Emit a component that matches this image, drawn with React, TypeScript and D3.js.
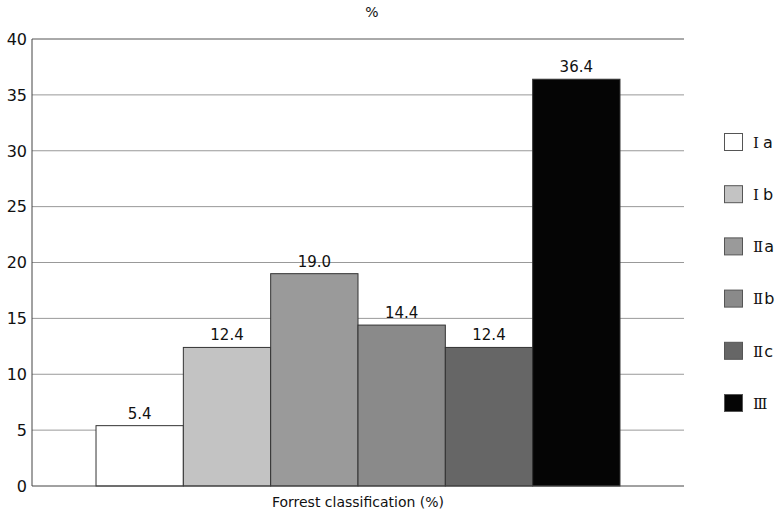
import React from "react";
import * as d3 from "d3";

const categories = ["Ⅰa", "Ⅰb", "Ⅱa", "Ⅱb", "Ⅱc", "Ⅲ"];
const values = [5.4, 12.4, 19.0, 14.4, 12.4, 36.4];
const colors = ["#ffffff", "#c3c3c3", "#9a9a9a", "#8a8a8a", "#666666", "#050505"];
const yTicks = [0, 5, 10, 15, 20, 25, 30, 35, 40];
const title = "%";
const xLabel = "Forrest classification (%)";

const W = 780, H = 520;
const left = 32, right = 684, top = 39, bottom = 486;

export default function App() {
  const y = d3.scaleLinear().domain([0, 40]).range([bottom, top]);
  const x = d3.scaleBand<string>().domain(categories).range([left, right]).paddingInner(0).paddingOuter(0.733);
  const font = "'DejaVu Sans', Verdana, sans-serif";
  const romanFont = "'DejaVu Serif', 'Liberation Serif', serif";
  const splitLabel = (c: string) => {
    const m = c.match(/^([ⅠⅡⅢ])(.*)$/);
    return m ? [m[1], m[2]] : [c, ""];
  };
  return (
    <svg width={W} height={H} style={{ position: "absolute", left: 0, top: 0, background: "#fff" }}>
      <rect x={0} y={0} width={W} height={H} fill="#fff" />
      {yTicks.map((t) => (
        <g key={t}>
          {t > 0 && (
            <line x1={left} x2={right} y1={y(t)} y2={y(t)} stroke={t === 40 ? "#555" : "#999"} strokeWidth={1} />
          )}
          <text x={left - 5} y={y(t)} dy="0.36em" textAnchor="end" fontFamily={font} fontSize={16} fill="#111">
            {t}
          </text>
        </g>
      ))}
      <line x1={left} x2={left} y1={top} y2={bottom} stroke="#444" strokeWidth={1} />
      {categories.map((c, i) => (
        <g key={c}>
          <rect
            x={x(c)!}
            y={y(values[i])}
            width={x.bandwidth()}
            height={bottom - y(values[i])}
            fill={colors[i]}
            stroke="#333"
            strokeWidth={1}
          />
          <text
            x={x(c)! + x.bandwidth() / 2}
            y={y(values[i]) - 7}
            textAnchor="middle"
            fontFamily={font}
            fontSize={15}
            fill="#111"
          >
            {values[i].toFixed(1)}
          </text>
        </g>
      ))}
      <line x1={left} x2={right} y1={bottom} y2={bottom} stroke="#444" strokeWidth={1} />
      <text x={372} y={17} textAnchor="middle" fontFamily={font} fontSize={14} fill="#111">
        {title}
      </text>
      <text x={358} y={507} textAnchor="middle" fontFamily={font} fontSize={14} fill="#111">
        {xLabel}
      </text>
      {categories.map((c, i) => {
        const cy = 142 + i * 52.2;
        const [r, s] = splitLabel(c);
        return (
          <g key={"lg" + c}>
            <rect x={724.5} y={cy - 8.5} width={18} height={17} fill={colors[i]} stroke="#555" strokeWidth={1} />
            <text x={753} y={cy} dy="0.36em" fontSize={16} fill="#111">
              <tspan fontFamily={romanFont} fontSize={15}>{r}</tspan>
              <tspan fontFamily={font} dx={r === "Ⅰ" ? 4 : 1}>{s}</tspan>
            </text>
          </g>
        );
      })}
    </svg>
  );
}
